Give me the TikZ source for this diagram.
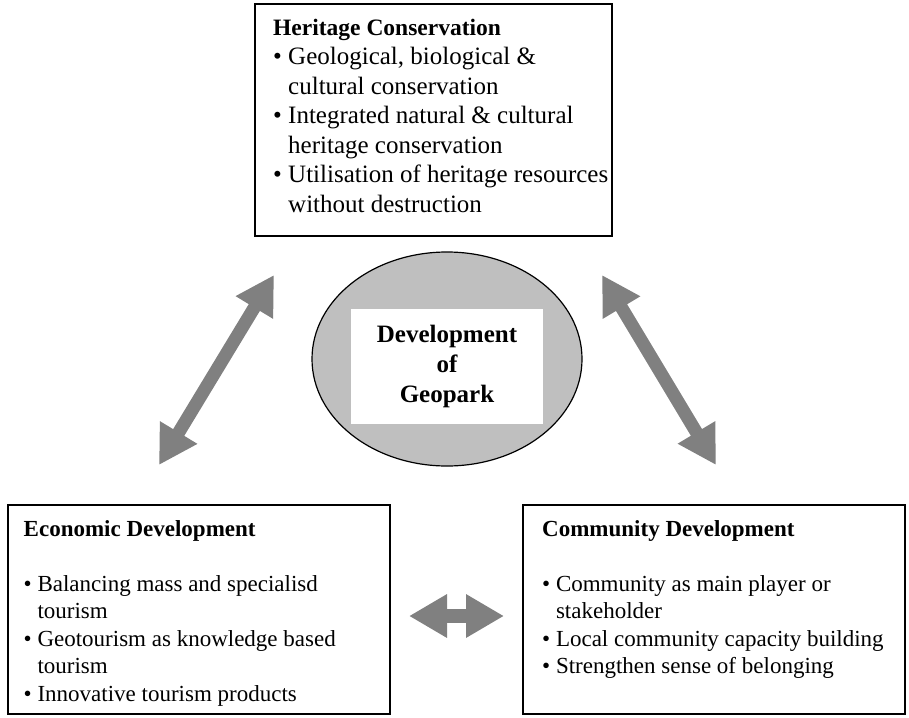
\documentclass[tikz,border=0pt]{standalone}
\usepackage{fontspec}
\setmainfont{Liberation Serif}
\usetikzlibrary{arrows.meta,shapes.geometric}

\begin{document}
\begin{tikzpicture}[
    x = 1pt,
    y = -1pt,
    box/.style = {draw, line width=1.3pt, rectangle,
              inner sep=0pt, outer sep=0pt},
    txt/.style = {anchor=north west, align=left, inner sep=0pt,
              font=\fontsize{23}{27.5}\selectfont},
    bigarrow/.style = {draw=black!50, line width=13pt,
              {Triangle[length=38pt,width=41pt]}-{Triangle[length=38pt,width=41pt]}},
    ]

\useasboundingbox (0,0) rectangle (909,717);

% boxes
\node[box, minimum width=357, minimum height=232] (heritage) at (433.5,120){};
\node[box, minimum width=382, minimum height=209] (economic) at (199,609.5){};
\node[box, minimum width=382, minimum height=209] (community) at (714,609.5){};

\node[txt, font=\fontsize{25}{29.5}\selectfont] (heritage_txt) at (273,18.5)
    {{\fontsize{23.5}{29.5}\selectfont\textbf{Heritage Conservation}}\\
     \textbullet\ Geological, biological \&\\
     \phantom{\textbullet\ }cultural conservation\\
     \textbullet\ Integrated natural \& cultural\\
     \phantom{\textbullet\ }heritage conservation\\
     \textbullet\ Utilisation of heritage resources\\
     \phantom{\textbullet\ }without destruction};

\node[txt] (economic_txt) at (23.5,520)
    {\textbf{Economic Development}\\
     \\
     \textbullet\ Balancing mass and specialisd\\
     \phantom{\textbullet\ }tourism\\
     \textbullet\ Geotourism as knowledge based\\
     \phantom{\textbullet\ }tourism\\
     \textbullet\ Innovative tourism products};

\node[txt] (community_txt) at (542,520)
    {\textbf{Community Development}\\
     \\
     \textbullet\ Community as main player or\\
     \phantom{\textbullet\ }stakeholder\\
     \textbullet\ Local community capacity building\\
     \textbullet\ Strengthen sense of belonging};

% centre
\node[ellipse, draw, line width=1.2pt, fill=black!25, minimum width=270,
      minimum height=214, inner sep=0pt] (geopark) at (447,359){};
\node[fill=white, minimum width=192, minimum height=115, align=center,
      inner sep=0pt, font=\bfseries\fontsize{25}{30}\selectfont]
      (geopark_txt) at (447,366.5){Development\\of\\Geopark};

% arrows
\coordinate (econ_up) at (274,275);
\coordinate (econ_down) at (159,465);
\coordinate (comm_up) at (602,275);
\coordinate (comm_down) at (716,465);
\coordinate (mid_left) at (409,616);
\coordinate (mid_right) at (504,616);

\draw [bigarrow] (econ_down) -- (econ_up);
\draw [bigarrow] (comm_up) -- (comm_down);
\draw [bigarrow, line width=14pt] (mid_left) -- (mid_right);

\end{tikzpicture}
\end{document}
